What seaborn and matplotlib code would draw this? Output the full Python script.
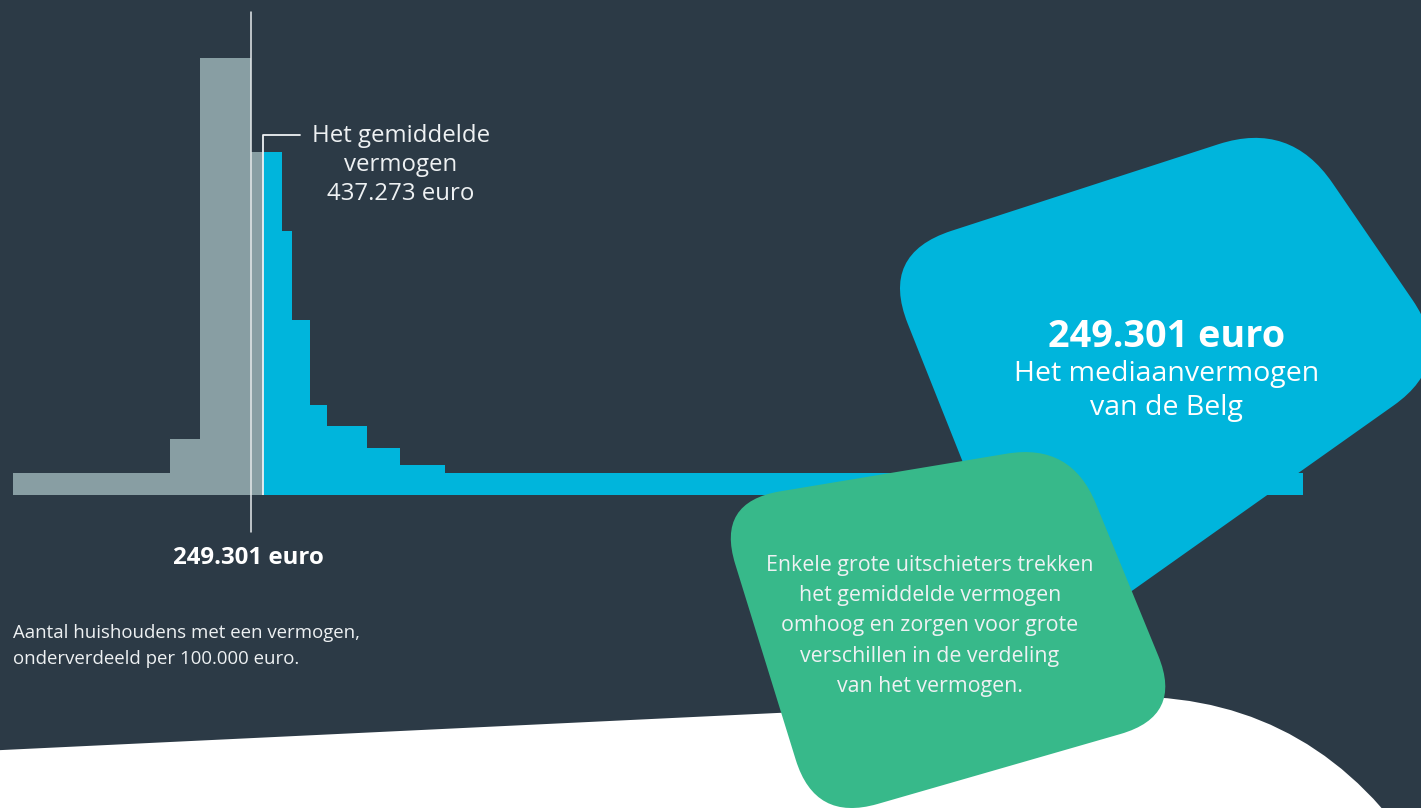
import numpy as np
import pandas as pd
import seaborn as sns
import matplotlib.pyplot as plt
from matplotlib.path import Path
from matplotlib.patches import PathPatch

# histogram bins (chart units along the wealth axis) and household counts
gray_edges = [0, 157, 187, 238, 250]
gray_counts = [22, 56, 437, 343]
blue_edges = [250, 269, 279, 297, 314, 354, 387, 432, 1290]
blue_counts = [343, 264, 175, 90, 69, 47, 30, 22]
median_pos = 238
mean_pos = 250
median_label = "249.301 euro"
mean_label = "Het gemiddelde\nvermogen\n437.273 euro"
caption = "Aantal huishoudens met een vermogen,\nonderverdeeld per 100.000 euro."
card_title = "249.301 euro"
card_sub = "Het mediaanvermogen\nvan de Belg"
note = ("Enkele grote uitschieters trekken\nhet gemiddelde vermogen\n"
        "omhoog en zorgen voor grote\nverschillen in de verdeling\nvan het vermogen.")

BG = "#2c3a46"
GRAY = "#889ea3"
BLUE = "#00b5dc"
GREEN = "#37b98a"
TXT = "#eef1f3"

sns.set_style("white")
plt.rcParams['font.family'] = ['Open Sans', 'DejaVu Sans']

fig = plt.figure(figsize=(14.21, 8.08), dpi=100, facecolor=BG)


def rounded(verts, r):
    # polygon with rounded corners (quadratic curves at each vertex)
    verts = [np.array(v, float) for v in verts]
    n = len(verts)
    pts, codes = [], []
    for i in range(n):
        p, prev, nxt = verts[i], verts[i - 1], verts[(i + 1) % n]
        rr = r[i] if isinstance(r, (list, tuple)) else r
        a = p + (prev - p) / np.linalg.norm(prev - p) * rr
        b = p + (nxt - p) / np.linalg.norm(nxt - p) * rr
        pts.append(a)
        codes.append(Path.MOVETO if i == 0 else Path.LINETO)
        pts += [p, b]
        codes += [Path.CURVE3, Path.CURVE3]
    pts.append(pts[0])
    codes.append(Path.CLOSEPOLY)
    return Path(pts, codes)


def pixel_axes():
    a = fig.add_axes([0, 0, 1, 1])
    a.set_xlim(0, 1421)
    a.set_ylim(808, 0)
    a.axis("off")
    a.patch.set_alpha(0)
    return a


# background layer: white bottom shape
bg = pixel_axes()
bg.add_patch(PathPatch(rounded([(-60, 753), (1300, 688), (1520, 1000), (-60, 1000)],
                               [1, 190, 1, 1]), fc="white", ec="none"))

# histogram axes
ax = fig.add_axes([13 / 1421, (808 - 495) / 808, 1292 / 1421, 480 / 808])
ax.patch.set_alpha(0)
sns.histplot(x=[(a + b) / 2 for a, b in zip(gray_edges[:-1], gray_edges[1:])],
             weights=gray_counts, bins=gray_edges, color=GRAY, alpha=1,
             linewidth=0, ax=ax)
sns.histplot(x=[(a + b) / 2 for a, b in zip(blue_edges[:-1], blue_edges[1:])],
             weights=blue_counts, bins=blue_edges, color=BLUE, alpha=1,
             linewidth=0, ax=ax)
ax.set_xlim(0, 1292)
ax.set_ylim(0, 480)
ax.axis("off")

# median and mean markers
ax.axvline(median_pos, ymin=-0.077, ymax=1.006, color="#e6eaec", lw=1.1, clip_on=False)
ax.plot([mean_pos, mean_pos, mean_pos + 37], [0, 360, 360], color="#eef1f3", lw=1.3)
ax.text(mean_pos + 138, 330, mean_label, ha="center", va="center", fontsize=17.3,
        color=TXT, linespacing=1.3)
ax.text(median_pos - 3, -63, median_label, ha="center", va="center", fontsize=17.3,
        fontweight="bold", color="white", clip_on=False)

fig.text(13 / 1421, 1 - 646 / 808, caption, ha="left", va="center", fontsize=13.4,
         color=TXT, linespacing=1.55)

# foreground layer: cards
fg = pixel_axes()
fg.add_patch(PathPatch(rounded([(880, 254), (1290, 121), (1455, 362), (1040, 656)], 75),
                       fc=BLUE, ec="none", zorder=5))
fg.text(1167, 337, card_title, ha="center", va="center", fontsize=27.2,
        fontweight="bold", color="white", zorder=6)
fg.text(1167, 391, card_sub, ha="center", va="center", fontsize=20.5,
        color="white", linespacing=1.28, zorder=6)

fg.add_patch(PathPatch(rounded([(716, 502), (1071, 443), (1183, 716), (815, 822)], 65),
                       fc=GREEN, ec="none", zorder=7))
fg.text(930, 626, note, ha="center", va="center", fontsize=15.4,
        color=TXT, linespacing=1.59, zorder=8)

fig.savefig("out.png", dpi=100, facecolor=BG)
